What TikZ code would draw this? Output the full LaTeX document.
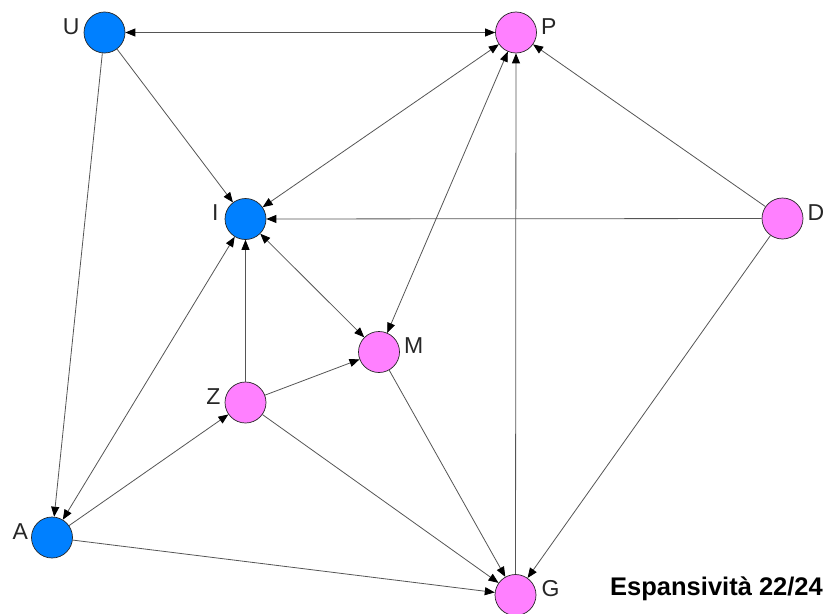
\documentclass[tikz,border=0pt]{standalone}
\usepackage{fontspec}
\setmainfont{Liberation Sans}
\usetikzlibrary{arrows.meta}
\definecolor{nblue}{RGB}{0,128,255}
\definecolor{npink}{RGB}{255,128,255}
\definecolor{edgec}{RGB}{85,85,85}
\begin{document}
\begin{tikzpicture}[x=1pt,y=-1pt,
  vtx/.style={circle,draw=black!85,line width=0.7pt,minimum size=41pt,inner sep=0pt},
  bluev/.style={vtx,fill=nblue},
  pinkv/.style={vtx,fill=npink},
  lbl/.style={inner sep=0pt,font=\fontsize{23}{23}\selectfont,text=black!85},
  edge/.style={draw=edgec,line width=0.8pt},
  to/.style={edge,-{Triangle[length=10pt,width=8pt,color=black]}},
  both/.style={edge,{Triangle[length=10pt,width=8pt,color=black]}-{Triangle[length=10pt,width=8pt,color=black]}}
]
\useasboundingbox (0,0) rectangle (827,613);
% vertices
\node[bluev] (U) at (104.5,32.5) {};
\node[pinkv] (P) at (516,32.5) {};
\node[bluev] (I) at (245.5,219) {};
\node[pinkv] (D) at (782.5,218.5) {};
\node[pinkv] (M) at (379,352) {};
\node[pinkv] (Z) at (245.5,402.5) {};
\node[bluev] (A) at (52,537.5) {};
\node[pinkv] (G) at (515.5,595) {};
% labels
\node[lbl,anchor=east] (lU) at ([xshift=-4pt,yshift=6pt]U.west) {U};
\node[lbl,anchor=west] (lP) at ([xshift=4pt,yshift=6pt]P.east) {P};
\node[lbl,anchor=east] (lI) at ([xshift=-6pt,yshift=6pt]I.west) {I};
\node[lbl,anchor=west] (lD) at ([xshift=4pt,yshift=6pt]D.east) {D};
\node[lbl,anchor=west] (lM) at ([xshift=4pt,yshift=6pt]M.east) {M};
\node[lbl,anchor=east] (lZ) at ([xshift=-4pt,yshift=6pt]Z.west) {Z};
\node[lbl,anchor=east] (lA) at ([xshift=-3pt,yshift=6pt]A.west) {A};
\node[lbl,anchor=west] (lG) at ([xshift=5pt,yshift=6pt]G.east) {G};
% edges
\draw[both] (U) -- (P);
\draw[to] (U) -- (I);
\draw[to] (U) -- (A);
\draw[both] (P) -- (I);
\draw[both] (P) -- (M);
\draw[to] (G) -- (P);
\draw[to] (D) -- (P);
\draw[to] (D) -- (I);
\draw[to] (D) -- (G);
\draw[both] (I) -- (M);
\draw[to] (Z) -- (I);
\draw[both] (A) -- (I);
\draw[to] (A) -- (Z);
\draw[to] (A) -- (G);
\draw[to] (Z) -- (M);
\draw[to] (Z) -- (G);
\draw[to] (M) -- (G);
% caption
\node[anchor=base west,inner sep=0pt,font=\bfseries\fontsize{25.5}{25.5}\selectfont] (cap) at (610,595) {Espansività 22/24};
\end{tikzpicture}
\end{document}
